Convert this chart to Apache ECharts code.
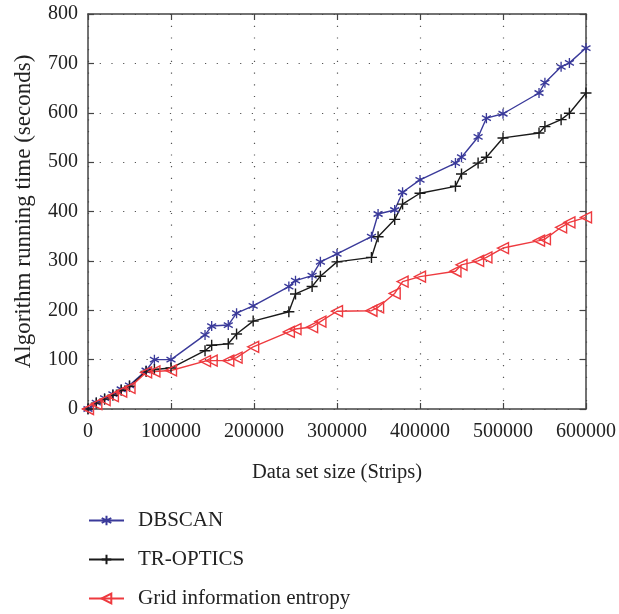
<!DOCTYPE html>
<html><head><meta charset="utf-8">
<script src="https://cdn.jsdelivr.net/npm/echarts@6/dist/echarts.min.js"></script>
<style>html,body{margin:0;padding:0;background:#fff}#c{width:619px;height:614px}</style>
</head><body><div id="c"></div>
<script>
const dataSizes = [0, 10000, 20000, 30000, 40000, 50000, 70000, 80000, 100000, 141000, 149000, 169000, 179000, 199000, 242000, 250000, 270000, 280000, 300000, 341500, 349500, 369500, 379000, 400000, 442700, 450000, 470000, 480000, 500000, 543400, 550500, 570000, 580000, 600000];
const dbscan = [0, 13, 22, 30, 40, 48, 78, 100, 100, 150, 168, 170, 194, 209, 248, 260, 270, 298, 314, 349, 395, 403, 439, 464, 498, 510, 551, 589, 598, 640, 661, 693, 701, 731];
const trOptics = [0, 12, 20, 28, 38, 46, 76, 80, 83, 118, 129, 132, 152, 178, 197, 233, 248, 269, 298, 307, 349, 384, 415, 437, 451, 476, 498, 510, 549, 559, 572, 586, 599, 640];
const gridEntropy = [0, 10, 18, 26, 35, 43, 74, 76, 78, 97, 98, 98, 104, 126, 156, 162, 166, 177, 198, 199, 206, 234, 258, 268, 279, 292, 300, 307, 326, 341, 344, 368, 378, 388];
const seriesNames = ['DBSCAN', 'TR-OPTICS', 'Grid information entropy'];
const xAxisName = 'Data set size (Strips)';
const yAxisName = 'Algorithm running time (seconds)';

const FONT = 'Liberation Serif';
const pairs = ys => dataSizes.map((x, i) => [x, ys[i]]);
const axisLine = { show: true, onZero: false, lineStyle: { color: '#444', width: 1.5 } };
const tick = { show: true, inside: true, length: 6, lineStyle: { color: '#444', width: 1.2 } };
const split = { show: true, lineStyle: { color: '#555', width: 1.2, type: [1.2, 10.5] } };

const chart = echarts.init(document.getElementById('c'), null, { renderer: 'canvas' });
chart.setOption({
  animation: false,
  backgroundColor: '#fff',
  textStyle: { fontFamily: FONT },
  grid: { left: 88, right: 30, top: 14, bottom: 205, containLabel: false },
  xAxis: [{
    type: 'value', min: 0, max: 600000, interval: 100000,
    name: xAxisName, nameLocation: 'middle', nameGap: 53,
    nameTextStyle: { fontFamily: FONT, fontSize: 20.5, color: '#222' },
    axisLine, axisTick: tick, splitLine: split,
    axisLabel: { fontFamily: FONT, fontSize: 20, color: '#222', margin: 13, formatter: v => String(v) }
  }, {
    type: 'value', min: 0, max: 600000, interval: 100000, position: 'top',
    axisLine, axisTick: tick, splitLine: { show: false }, axisLabel: { show: false }
  }],
  yAxis: [{
    type: 'value', min: 0, max: 800, interval: 100,
    name: yAxisName, nameLocation: 'middle', nameGap: 53,
    nameTextStyle: { fontFamily: FONT, fontSize: 23, color: '#222' },
    axisLine, axisTick: tick, splitLine: split,
    axisLabel: { fontFamily: FONT, fontSize: 20, color: '#222', margin: 10 }
  }, {
    type: 'value', min: 0, max: 800, interval: 100, position: 'right',
    axisLine, axisTick: tick, splitLine: { show: false }, axisLabel: { show: false }
  }],
  legend: {
    orient: 'vertical', left: 88, top: 510, padding: 0, itemWidth: 35, itemHeight: 12, itemGap: 18,
    textStyle: { fontFamily: FONT, fontSize: 21, color: '#222', padding: [0, 0, 0, 9] },
    data: seriesNames
  },
  series: [{
    name: seriesNames[0], type: 'line', data: pairs(dbscan),
    symbol: 'path://M0,-5L0,5M-4.33,-2.5L4.33,2.5M-4.33,2.5L4.33,-2.5', symbolSize: [9, 10],
    itemStyle: { color: 'rgba(0,0,0,0)', borderColor: '#3a3a9a', borderWidth: 1.4 },
    lineStyle: { color: '#3a3a9a', width: 1.4 }
  }, {
    name: seriesNames[1], type: 'line', data: pairs(trOptics),
    symbol: 'path://M0,-5L0,5M-5,0L5,0', symbolSize: 11,
    itemStyle: { color: 'rgba(0,0,0,0)', borderColor: '#1a1a1a', borderWidth: 1.4 },
    lineStyle: { color: '#1a1a1a', width: 1.4 }
  }, {
    name: seriesNames[2], type: 'line', data: pairs(gridEntropy),
    symbol: 'path://M0,5L10,0L10,10Z', symbolSize: 11,
    itemStyle: { color: 'rgba(0,0,0,0)', borderColor: '#ee3a3f', borderWidth: 1.4 },
    lineStyle: { color: '#ee3a3f', width: 1.4 }
  }]
});
</script></body></html>
